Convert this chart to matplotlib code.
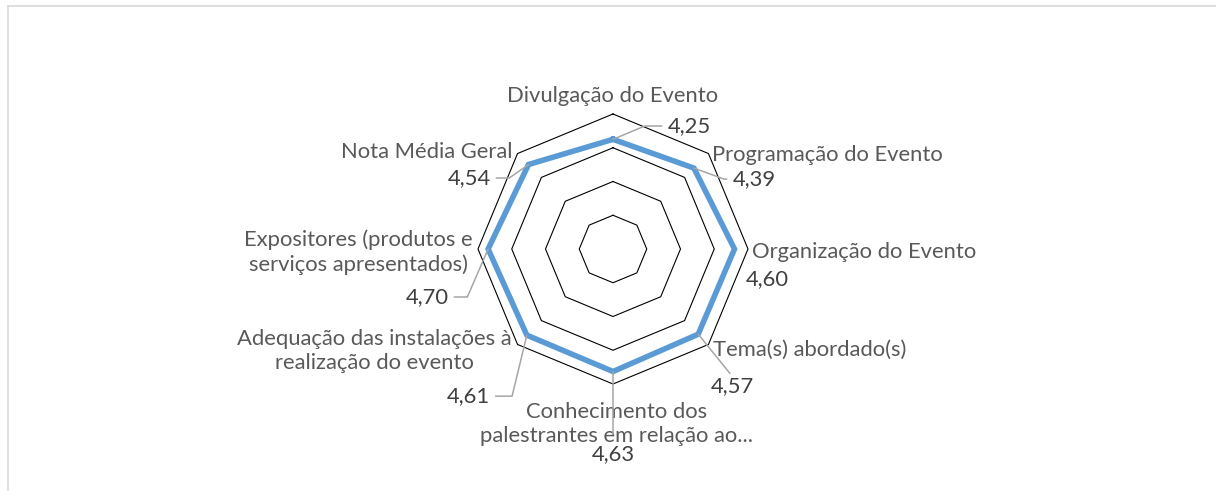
import numpy as np
import matplotlib.pyplot as plt
from matplotlib.lines import Line2D

plt.rcParams['font.family'] = ['Lato', 'DejaVu Sans']

# data, clockwise from the top
categories = [
    'Divulgação do Evento',
    'Programação do Evento',
    'Organização do Evento',
    'Tema(s) abordado(s)',
    'Conhecimento dos\npalestrantes em relação ao...',
    'Adequação das instalações à\nrealização do evento',
    'Expositores (produtos e\nserviços apresentados)',
    'Nota Média Geral',
]
scores = [4.25, 4.39, 4.60, 4.57, 4.63, 4.61, 4.70, 4.54]
rings = [2, 3, 4, 5]
r_min, r_max = 1, 5

# layout: category label offsets (pixels from outer vertex) and alignment
cat_pos = [(0, 18, 'center'), (3.5, -1.5, 'left'), (4, -3, 'left'), (4.5, -5.5, 'left'),
           (4, -40, 'center'), (-5.5, -6.5, 'right'), (-5, -3, 'right'), (-5.5, 1.5, 'right')]
# value label offsets (pixels from data point, baseline) and leader styles
val_pos = [(76, 7.3), (60, -17), (33, -36), (34, -58),
           (0, -88.5), (-58.5, -67), (-61, -54), (-59.5, -19.5)]
leaders = ['angle,angleA=0,angleB=22.7', 'angle,angleA=0,angleB=-20', None, 'arc3',
           'arc3', 'angle,angleA=0,angleB=76.4', 'angle,angleA=0,angleB=66.6',
           'angle,angleA=0,angleB=35']
leader_rel = [(0.5, 0.5), (0.5, 0.5), None, (0.5, 1.0), (0.5, 1.0),
              (0.5, 0.5), (0.5, 0.5), (0.5, 0.5)]
leader_shrink = [2, 2, 0, 0, 5, 2, 2, 2]

TEXT = '#595959'
VALUE = '#404040'
BLUE = '#5B9BD5'
FS = 15.8

n = len(categories)
theta = np.arange(n) * 2 * np.pi / n
theta_c = np.append(theta, theta[0])

fig = plt.figure(figsize=(12.16, 4.91), dpi=100)
ax = fig.add_axes([478 / 1216, 107 / 491, 270 / 1216, 270 / 491], projection='polar')
ax.set_theta_zero_location('N')
ax.set_theta_direction(-1)
ax.set_ylim(r_min, r_max)
ax.set_xticks([])
ax.set_yticks([])
ax.grid(False)
ax.spines['polar'].set_visible(False)
ax.patch.set_visible(False)

for r in rings:
    ax.plot(theta_c, [r] * (n + 1), color='black', lw=0.8, clip_on=False, zorder=1)

vals = np.append(scores, scores[0])
ax.plot(theta_c, vals, color=BLUE, lw=4, solid_joinstyle='miter', clip_on=False, zorder=3)

for i, (t, lab) in enumerate(zip(theta, categories)):
    dx, dy, ha = cat_pos[i]
    ax.annotate(lab, xy=(t, r_max), xytext=(dx, dy), textcoords='offset pixels',
                ha=ha, va='center', multialignment='center', fontsize=FS,
                color=TEXT, linespacing=1.28, annotation_clip=False)

for i, (t, v) in enumerate(zip(theta, scores)):
    dx, dy = val_pos[i]
    txt = '{:.2f}'.format(v).replace('.', ',')
    props = None
    if leaders[i] is not None:
        props = dict(arrowstyle='-', color='#a6a6a6', lw=1.1,
                     connectionstyle=leaders[i], relpos=leader_rel[i],
                     shrinkA=leader_shrink[i], shrinkB=0)
    ax.annotate(txt, xy=(t, v), xytext=(dx, dy), textcoords='offset pixels',
                ha='center', va='baseline', fontsize=FS, color=VALUE,
                arrowprops=props, annotation_clip=False, zorder=4)

# chart area border (only top and left edges are in frame)
fig.add_artist(Line2D([7.5 / 1216, 7.5 / 1216], [0, 1 - 5.5 / 491],
                      transform=fig.transFigure, color='#d9d9d9', lw=1.2))
fig.add_artist(Line2D([7.5 / 1216, 1], [1 - 5.5 / 491, 1 - 5.5 / 491],
                      transform=fig.transFigure, color='#d9d9d9', lw=1.2))

fig.savefig('out.png', dpi=100, facecolor='white')
